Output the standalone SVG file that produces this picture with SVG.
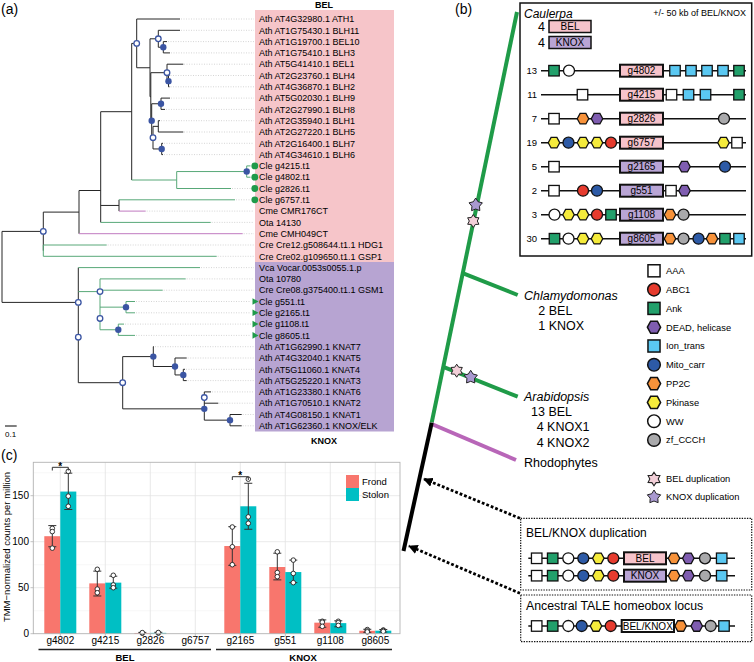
<svg xmlns="http://www.w3.org/2000/svg" width="754" height="662" viewBox="0 0 754 662">
<defs>
<style>
text{font-family:"Liberation Sans",Arial,Helvetica,sans-serif;fill:#000}
.lbl{font-size:9px}
.t{fill:none;stroke:#262626;stroke-width:1}
.tg{fill:none;stroke:#58a878;stroke-width:1}
.tp{fill:none;stroke:#c07ac0;stroke-width:1}
.ld{fill:none;stroke:#b8b8b8;stroke-width:0.6;stroke-dasharray:1 1.5}
.nf{fill:#3b55a3}
.no{fill:#fff;stroke:#3b55a3;stroke-width:1.3}
.d{stroke:#111;stroke-width:1.3}
.w{fill:#fff}.r{fill:#e63b2e}.g{fill:#22a06b}.p{fill:#7f5db0}.lb{fill:#5ac8f2}.b{fill:#2d5aa6}.o{fill:#f7923a}.y{fill:#f5eb3b}.gr{fill:#a9a9ab}
.ln{stroke:#111;stroke-width:1.5}
.gb{stroke:#111;stroke-width:2}
.bel{fill:#f6c3cb}.knox{fill:#b9a5d5}
.rn{font-size:9.5px;text-anchor:end}
.gl{font-size:10px;text-anchor:middle}
.lg{font-size:9.3px}
.big{font-size:12.5px}
.sk{fill:#a999d0;stroke:#222;stroke-width:1}
.sb{fill:#f2cfd8;stroke:#222;stroke-width:1}
.ax{font-size:10px;fill:#4d4d4d}
.eb{stroke:#333;stroke-width:1;fill:none}
.pt{fill:#fff;stroke:#222;stroke-width:0.9}
.fr{fill:#f8766d}.sto{fill:#00bfc4}
</style>
<rect id="sq" x="-5.25" y="-5.25" width="10.5" height="10.5"/>
<circle id="ci" r="5.5"/>
<polygon id="hx" points="-5.75,0 -2.9,-5.25 2.9,-5.25 5.75,0 2.9,5.25 -2.9,5.25"/>
<path id="st5" d="M0,-7 L2.35,-3.24 L6.66,-2.16 L3.8,1.24 L4.11,5.66 L0,4 L-4.11,5.66 L-3.8,1.24 L-6.66,-2.16 L-2.35,-3.24 Z"/>
<path id="st6" d="M0,-6.5 L2,-3.46 L5.63,-3.25 L4,0 L5.63,3.25 L2,3.46 L0,6.5 L-2,3.46 L-5.63,3.25 L-4,0 L-5.63,-3.25 L-2,-3.46 Z"/>
<marker id="ah" viewBox="0 0 10 10" refX="9" refY="5" markerWidth="3.4" markerHeight="3.4" orient="auto" markerUnits="strokeWidth"><path d="M0,0 L10,5 L0,10 Z" fill="#000"/></marker>
</defs>
<rect width="754" height="662" fill="#fff"/>

<!-- ================= Panel (a) ================= -->
<g id="panel-a">
<text x="1" y="13.5" font-size="14">(a)</text>
<rect x="255" y="10" width="139" height="252" fill="#f6c5c9"/>
<rect x="255" y="262" width="139" height="169.5" fill="#b7a4d2"/>
<text x="324" y="8" font-size="9" font-weight="bold" text-anchor="middle">BEL</text>
<text x="324" y="443.5" font-size="9" font-weight="bold" text-anchor="middle">KNOX</text>

<g id="connectors-a">
<path class="ld" d="M181,19H254 M181,30.3H254 M168,41.6H254 M171,52.9H254 M184,64.2H254 M170.5,75.5H254 M170.5,86.8H254 M171,98.1H254 M166,109.4H254 M161,120.7H254 M184,132H254 M164,143.3H254 M164,154.6H254 M232,188.5H251 M236,199.8H251 M146.7,211.1H254 M211.7,222.4H254 M243.7,233.7H254 M107.7,245H254 M217.7,256.3H254 M201,267.6H254 M186.7,278.9H254 M163.7,290.2H254 M136,301.5H251 M136,312.8H251 M125,324.1H251 M136,335.4H251 M155,346.7H254 M187.7,358H254 M186,369.3H254 M187.7,380.6H254 M212,391.9H254 M219.3,403.2H254 M242.7,414.5H254 M242.7,425.8H254"/>
<path class="t" d="M2,231.4V302.4 M2,231.4H43.3 M2,302.4H78.3
M43.3,212.1V250.65 M43.3,212.1H79
M79,190.5V233.7 M79,190.5H100.7
M100.7,111.7V222.4 M100.7,111.7H131.7 M100.7,205.45H119
M119,199.8V211.1
M131.7,43.4V180 M131.7,43.4H136.7
M136.7,19V67.75 M136.7,19H180 M136.7,67.75H150
M150,38.8V96.7 M150,38.8H158.3 M150,96.7H150.8
M158.3,30.3V47.25 M158.3,30.3H180 M158.3,47.25H163.3
M163.3,41.6V52.9 M163.3,41.6H167 M163.3,52.9H170
M150.8,72.7V120.7 M150.8,72.7H167 M150.8,120.7H151.7
M167,64.2V81.15 M167,64.2H183.3 M167,81.15H168.5
M168.5,75.5V86.8 M168.5,75.5H169.5 M168.5,86.8H169.5
M151.7,103.75V137.65 M151.7,103.75H161 M151.7,137.65H153
M161,98.1V109.4 M161,98.1H170 M161,109.4H165
M153,126.35V148.95 M153,126.35H158.3 M153,148.95H161.7
M158.3,120.7V132 M158.3,120.7H160 M158.3,132H183.3
M161.7,143.3V154.6 M161.7,143.3H163 M161.7,154.6H163
M78.3,267.6V382.7 M78.3,382.7H122.7
M122.7,356.6V408.85 M122.7,356.6H153.3 M122.7,408.85H204.3
M153.3,346.7V366.5 M153.3,346.7H154 M153.3,366.5H175
M175,358V374.95 M175,358H186.7 M175,374.95H183.3
M183.3,369.3V380.6 M183.3,369.3H185 M183.3,380.6H186.7
M204.3,391.9V420.15 M204.3,420.15H230 M204.3,391.9H211 M204.3,403.2H218.3
M230,414.5V425.8 M230,414.5H241.7 M230,425.8H241.7"/>
<path class="tg" d="M43.3,245V256.3 M43.3,245H106.7 M43.3,256.3H216.7
M100.7,222.4H210.7 M119,199.8H235
M131.7,180H176.7 M176.7,171.55V188.5 M176.7,171.55H246.7 M176.7,188.5H231
M246.7,165.9V177.2 M246.7,165.9H250.5 M246.7,177.2H250.5
M78.3,267.6H200 M78.3,291.6H100
M100,278.9V329.75 M100,278.9H185.7 M100,290.2H162.7 M100,307.15H126 M100,329.75H118.3
M126,301.5V312.8 M126,301.5H135 M126,312.8H135
M118.3,324.1V335.4 M118.3,324.1H124 M118.3,335.4H135"/>
<path class="tp" d="M79,233.7H242.7 M119,211.1H145.7"/>
</g>

<g id="nodes-a">
<circle class="no" cx="136.7" cy="43.4" r="2.8"/>
<circle class="no" cx="158.3" cy="38.8" r="2.8"/>
<circle class="nf" cx="163.3" cy="47.25" r="3.2"/>
<circle class="no" cx="167" cy="72.7" r="2.8"/>
<circle class="nf" cx="168.5" cy="81.15" r="3.2"/>
<circle class="nf" cx="161" cy="103.75" r="3.2"/>
<circle class="nf" cx="151.7" cy="120.7" r="3.2"/>
<circle class="no" cx="153" cy="137.65" r="2.8"/>
<circle class="nf" cx="161.7" cy="148.95" r="3.2"/>
<circle class="nf" cx="246.7" cy="171.55" r="3.2"/>
<circle class="no" cx="43.3" cy="231.4" r="2.8"/>
<circle class="no" cx="78.3" cy="302.4" r="2.8"/>
<circle class="no" cx="78.3" cy="337.2" r="2.8"/>
<circle class="no" cx="100" cy="291.6" r="2.8"/>
<circle class="no" cx="100" cy="318.45" r="2.8"/>
<circle class="nf" cx="126" cy="307.15" r="3.2"/>
<circle class="nf" cx="118.3" cy="329.75" r="3.2"/>
<circle class="no" cx="122.7" cy="382.7" r="2.8"/>
<circle class="nf" cx="153.3" cy="356.6" r="3.2"/>
<circle class="nf" cx="175" cy="366.5" r="3.2"/>
<circle class="nf" cx="183.3" cy="374.95" r="3.2"/>
<circle class="no" cx="204.3" cy="397.55" r="2.8"/>
<circle class="nf" cx="204.3" cy="408.85" r="3.2"/>
<circle class="nf" cx="230" cy="420.15" r="3.2"/>
</g>

<g id="tips-a" fill="#1f9a4a">
<circle cx="254.8" cy="165.9" r="3.4"/>
<circle cx="254.8" cy="177.2" r="3.4"/>
<circle cx="254.8" cy="188.5" r="3.4"/>
<circle cx="254.8" cy="199.8" r="3.4"/>
<polygon points="252.5,298.2 258.5,301.5 252.5,304.8"/>
<polygon points="252.5,309.5 258.5,312.8 252.5,316.1"/>
<polygon points="252.5,320.8 258.5,324.1 252.5,327.4"/>
<polygon points="252.5,332.1 258.5,335.4 252.5,338.7"/>
</g>

<g id="labels-a" class="lbl">
<text x="259" y="22.2">Ath AT4G32980.1 ATH1</text>
<text x="259" y="33.5">Ath AT1G75430.1 BLH11</text>
<text x="259" y="44.8">Ath AT1G19700.1 BEL10</text>
<text x="259" y="56.1">Ath AT1G75410.1 BLH3</text>
<text x="259" y="67.4">Ath AT5G41410.1 BEL1</text>
<text x="259" y="78.7">Ath AT2G23760.1 BLH4</text>
<text x="259" y="90">Ath AT4G36870.1 BLH2</text>
<text x="259" y="101.3">Ath AT5G02030.1 BLH9</text>
<text x="259" y="112.6">Ath AT2G27990.1 BLH8</text>
<text x="259" y="123.9">Ath AT2G35940.1 BLH1</text>
<text x="259" y="135.2">Ath AT2G27220.1 BLH5</text>
<text x="259" y="146.5">Ath AT2G16400.1 BLH7</text>
<text x="259" y="157.8">Ath AT4G34610.1 BLH6</text>
<text x="259" y="169.1">Cle g4215.t1</text>
<text x="259" y="180.4">Cle g4802.t1</text>
<text x="259" y="191.7">Cle g2826.t1</text>
<text x="259" y="203">Cle g6757.t1</text>
<text x="259" y="214.3">Cme CMR176CT</text>
<text x="259" y="225.6">Ota 14130</text>
<text x="259" y="236.9">Cme CMH049CT</text>
<text x="259" y="248.2">Cre Cre12.g508644.t1.1 HDG1</text>
<text x="259" y="259.5">Cre Cre02.g109650.t1.1 GSP1</text>
<text x="259" y="270.8">Vca Vocar.0053s0055.1.p</text>
<text x="259" y="282.1">Ota 10780</text>
<text x="259" y="293.4">Cre Cre08.g375400.t1.1 GSM1</text>
<text x="259" y="304.7">Cle g551.t1</text>
<text x="259" y="316">Cle g2165.t1</text>
<text x="259" y="327.3">Cle g1108.t1</text>
<text x="259" y="338.6">Cle g8605.t1</text>
<text x="259" y="349.9">Ath AT1G62990.1 KNAT7</text>
<text x="259" y="361.2">Ath AT4G32040.1 KNAT5</text>
<text x="259" y="372.5">Ath AT5G11060.1 KNAT4</text>
<text x="259" y="383.8">Ath AT5G25220.1 KNAT3</text>
<text x="259" y="395.1">Ath AT1G23380.1 KNAT6</text>
<text x="259" y="406.4">Ath AT1G70510.1 KNAT2</text>
<text x="259" y="417.7">Ath AT4G08150.1 KNAT1</text>
<text x="259" y="429">Ath AT1G62360.1 KNOX/ELK</text>
</g>

<g id="scalebar">
<line x1="5" y1="426" x2="16.7" y2="426" stroke="#000" stroke-width="1"/>
<text x="5" y="436.5" font-size="8">0.1</text>
</g>
</g>

<!-- ================= Panel (c) ================= -->
<g id="panel-c">
<text x="1" y="460" font-size="14">(c)</text>
<g id="grid-c" fill="none">
<path stroke="#f2f2f2" stroke-width="0.6" d="M33.3,610.7H400 M33.3,564.7H400 M33.3,518.7H400 M33.3,472.7H400"/>
<path stroke="#e3e3e3" stroke-width="0.8" d="M33.3,587.7H400 M33.3,541.7H400 M33.3,495.7H400 M60.3,462.3V633.7 M105.3,462.3V633.7 M150.3,462.3V633.7 M195.3,462.3V633.7 M240.3,462.3V633.7 M285.3,462.3V633.7 M330.3,462.3V633.7 M375.3,462.3V633.7"/>
</g>
<g id="bars-c">
<rect class="fr" x="44.3" y="536.2" width="16" height="97.5"/>
<rect class="sto" x="60.3" y="491.56" width="16" height="142.14"/>
<rect class="fr" x="89.3" y="583.38" width="16" height="50.32"/>
<rect class="sto" x="105.3" y="582.64" width="16" height="51.06"/>
<rect class="fr" x="134.3" y="632.96" width="16" height="0.74"/>
<rect class="sto" x="150.3" y="632.87" width="16" height="0.83"/>
<rect class="fr" x="224.3" y="546.02" width="16" height="87.68"/>
<rect class="sto" x="240.3" y="506.28" width="16" height="127.42"/>
<rect class="fr" x="269.3" y="567" width="16" height="66.7"/>
<rect class="sto" x="285.3" y="572.06" width="16" height="61.64"/>
<rect class="fr" x="314.3" y="622.66" width="16" height="11.04"/>
<rect class="sto" x="330.3" y="623.12" width="16" height="10.58"/>
<rect class="fr" x="359.3" y="630.76" width="16" height="2.94"/>
<rect class="sto" x="375.3" y="630.66" width="16" height="3.04"/>
</g>
<path id="errorbars-c" class="eb" d="M52.3,546.76V525.6 M48.3,546.76H56.3 M48.3,525.6H56.3
M68.3,509.5V473.16 M64.3,509.5H72.3 M64.3,473.16H72.3
M97.3,595.98V571.14 M93.3,595.98H101.3 M93.3,571.14H101.3
M113.3,588.16V576.2 M109.3,588.16H117.3 M109.3,576.2H117.3
M142.3,633.5V632.4 M138.3,632.4H146.3
M158.3,633.4V632.3 M154.3,632.3H162.3
M232.3,565.34V526.7 M228.3,565.34H236.3 M228.3,526.7H236.3
M248.3,529.28V483.28 M244.3,529.28H252.3 M244.3,483.28H252.3
M277.3,579.88V553.2 M273.3,579.88H281.3 M273.3,553.2H281.3
M293.3,582.64V560.1 M289.3,582.64H297.3 M289.3,560.1H297.3
M322.3,627.26V619.9 M318.3,627.26H326.3 M318.3,619.9H326.3
M338.3,626.8V620.82 M334.3,626.8H342.3 M334.3,620.82H342.3
M367.3,632.32V629.28 M363.3,632.32H371.3 M363.3,629.28H371.3
M383.3,632.04V629.47 M379.3,632.04H387.3 M379.3,629.47H387.3"/>
<g id="points-c">
<circle class="pt" cx="52.3" cy="528.36" r="2.3"/><circle class="pt" cx="52.3" cy="531.58" r="2.3"/><circle class="pt" cx="52.3" cy="548.14" r="2.3"/>
<circle class="pt" cx="68.3" cy="471.32" r="2.3"/><circle class="pt" cx="68.3" cy="496.16" r="2.3"/><circle class="pt" cx="68.3" cy="506.28" r="2.3"/>
<circle class="pt" cx="97.3" cy="569.3" r="2.3"/><circle class="pt" cx="97.3" cy="589.08" r="2.3"/><circle class="pt" cx="97.3" cy="592.76" r="2.3"/>
<circle class="pt" cx="113.3" cy="575.28" r="2.3"/><circle class="pt" cx="113.3" cy="584.94" r="2.3"/><circle class="pt" cx="113.3" cy="587.7" r="2.3"/>
<circle class="pt" cx="142.3" cy="633.24" r="2.3"/><circle class="pt" cx="142.3" cy="632.6" r="2.3"/>
<circle class="pt" cx="158.3" cy="633.15" r="2.3"/><circle class="pt" cx="158.3" cy="632.5" r="2.3"/>
<circle class="pt" cx="232.3" cy="527" r="2.3"/><circle class="pt" cx="232.3" cy="546.76" r="2.3"/><circle class="pt" cx="232.3" cy="564.7" r="2.3"/>
<circle class="pt" cx="248.3" cy="479.14" r="2.3"/><circle class="pt" cx="248.3" cy="516.86" r="2.3"/><circle class="pt" cx="248.3" cy="523.3" r="2.3"/>
<circle class="pt" cx="277.3" cy="551.82" r="2.3"/><circle class="pt" cx="277.3" cy="572.52" r="2.3"/><circle class="pt" cx="277.3" cy="576.66" r="2.3"/>
<circle class="pt" cx="293.3" cy="560.1" r="2.3"/><circle class="pt" cx="293.3" cy="573.44" r="2.3"/><circle class="pt" cx="293.3" cy="582.64" r="2.3"/>
<circle class="pt" cx="322.3" cy="621.28" r="2.3"/><circle class="pt" cx="322.3" cy="622.2" r="2.3"/><circle class="pt" cx="322.3" cy="626.34" r="2.3"/>
<circle class="pt" cx="338.3" cy="621.28" r="2.3"/><circle class="pt" cx="338.3" cy="622.66" r="2.3"/><circle class="pt" cx="338.3" cy="625.42" r="2.3"/>
<circle class="pt" cx="367.3" cy="629.56" r="2.3"/><circle class="pt" cx="367.3" cy="630.94" r="2.3"/><circle class="pt" cx="367.3" cy="631.86" r="2.3"/>
<circle class="pt" cx="383.3" cy="630.02" r="2.3"/><circle class="pt" cx="383.3" cy="630.48" r="2.3"/><circle class="pt" cx="383.3" cy="631.4" r="2.3"/>
</g>
<rect x="33.3" y="462.3" width="366.7" height="171.4" fill="none" stroke="#b3b3b3" stroke-width="0.9"/>
<path stroke="#b3b3b3" stroke-width="0.8" fill="none" d="M30.5,633.7H33.3 M30.5,587.7H33.3 M30.5,541.7H33.3 M30.5,495.7H33.3 M60.3,633.7V636.5 M105.3,633.7V636.5 M150.3,633.7V636.5 M195.3,633.7V636.5 M240.3,633.7V636.5 M285.3,633.7V636.5 M330.3,633.7V636.5 M375.3,633.7V636.5"/>
<g id="sig-c">
<path class="eb" d="M52.3,470.5V467.3H68.3V470.5 M232.3,480V476.7H248.3V480"/>
<text x="60.3" y="469.5" font-size="10" font-weight="bold" text-anchor="middle">*</text>
<text x="240.3" y="479" font-size="10" font-weight="bold" text-anchor="middle">*</text>
</g>
<g id="yaxis-c" class="ax" text-anchor="end">
<text x="29" y="637.2">0</text>
<text x="29" y="591.2">50</text>
<text x="29" y="545.2">100</text>
<text x="29" y="499.2">150</text>
</g>
<text transform="translate(10,547) rotate(-90)" font-size="9.5" text-anchor="middle">TMM−normalized counts per million</text>
<g id="xaxis-c" class="ax" text-anchor="middle">
<text x="60.3" y="643.8">g4802</text>
<text x="105.3" y="643.8">g4215</text>
<text x="150.3" y="643.8">g2826</text>
<text x="195.3" y="643.8">g6757</text>
<text x="240.3" y="643.8">g2165</text>
<text x="285.3" y="643.8">g551</text>
<text x="330.3" y="643.8">g1108</text>
<text x="375.3" y="643.8">g8605</text>
</g>
<g id="groups-c">
<line x1="38.5" y1="649.5" x2="211" y2="649.5" stroke="#222" stroke-width="1.6"/>
<line x1="216" y1="649.5" x2="392" y2="649.5" stroke="#222" stroke-width="1.6"/>
<text x="125" y="660.5" font-size="9.5" font-weight="bold" text-anchor="middle">BEL</text>
<text x="303" y="660.5" font-size="9.5" font-weight="bold" text-anchor="middle">KNOX</text>
</g>
<g id="legend-c">
<rect class="fr" x="346" y="475" width="13" height="13"/>
<rect class="sto" x="346" y="488" width="13" height="13"/>
<text x="362" y="485" font-size="9.5">Frond</text>
<text x="362" y="498" font-size="9.5">Stolon</text>
</g>
</g>

<!-- ================= Panel (b) ================= -->
<g id="panel-b">
<text x="455" y="13.5" font-size="14">(b)</text>

<g id="connectors-b" fill="none" stroke-linecap="butt">
<line x1="517" y1="12" x2="431.7" y2="422.7" stroke="#1f9b48" stroke-width="4"/>
<line x1="463.3" y1="273.3" x2="517.7" y2="295" stroke="#1f9b48" stroke-width="4"/>
<line x1="442.7" y1="366.7" x2="517.7" y2="396.7" stroke="#1f9b48" stroke-width="4"/>
<line x1="431.7" y1="424" x2="516" y2="460" stroke="#b866b8" stroke-width="4"/>
<line x1="431.7" y1="422.7" x2="403.5" y2="551" stroke="#000" stroke-width="4"/>
<path d="M520,518.3 L424,479" stroke="#000" stroke-width="2.8" stroke-dasharray="2.8 2" marker-end="url(#ah)"/>
<path d="M520,593.3 L409,546" stroke="#000" stroke-width="2.8" stroke-dasharray="2.8 2" marker-end="url(#ah)"/>
</g>
<g id="stars-b">
<use href="#st5" x="475.7" y="205" class="sk"/>
<use href="#st6" x="473.3" y="221" class="sb"/>
<use href="#st6" x="456.7" y="370.7" class="sb"/>
<use href="#st5" x="470.7" y="377.3" class="sk"/>
</g>

<g id="caulerpa-box">
<rect x="520" y="3" width="231.7" height="253" fill="#fff" stroke="#111" stroke-width="1.5"/>
<text x="524" y="17.5" font-size="12" font-style="italic">Caulerpa</text>
<text x="746" y="16.2" font-size="9" text-anchor="end">+/- 50 kb of BEL/KNOX</text>
<text x="538" y="31" font-size="12.5">4</text>
<rect x="549" y="20.5" width="42" height="12" class="bel" stroke="#111" stroke-width="1.5"/>
<text x="570" y="30" font-size="10" text-anchor="middle">BEL</text>
<text x="538" y="47" font-size="12.5">4</text>
<rect x="549" y="36.5" width="42" height="12" class="knox" stroke="#111" stroke-width="1.5"/>
<text x="570" y="46" font-size="10" text-anchor="middle">KNOX</text>
</g>

<g id="row-g4802">
<line class="ln" x1="541" y1="70.7" x2="746" y2="70.7"/>
<text class="rn" x="537" y="74.1">13</text>
<use href="#sq" x="554" y="70.7" class="d g"/>
<use href="#ci" x="569" y="70.7" class="d w"/>
<rect class="gb bel" x="620" y="64.7" width="43" height="12"/>
<text class="gl" x="641.5" y="74.3">g4802</text>
<use href="#sq" x="675" y="70.7" class="d lb"/>
<use href="#sq" x="691" y="70.7" class="d lb"/>
<use href="#sq" x="707" y="70.7" class="d lb"/>
<use href="#sq" x="723" y="70.7" class="d lb"/>
<use href="#sq" x="739" y="70.7" class="d g"/>
</g>
<g id="row-g4215">
<line class="ln" x1="541" y1="94.7" x2="746" y2="94.7"/>
<text class="rn" x="537" y="98.1">11</text>
<use href="#sq" x="582.5" y="94.7" class="d w"/>
<rect class="gb bel" x="620" y="88.7" width="43" height="12"/>
<text class="gl" x="641.5" y="98.3">g4215</text>
<use href="#sq" x="671.5" y="94.7" class="d w"/>
<use href="#sq" x="688.5" y="94.7" class="d lb"/>
<use href="#sq" x="705.5" y="94.7" class="d lb"/>
<use href="#sq" x="739" y="94.7" class="d g"/>
</g>
<g id="row-g2826">
<line class="ln" x1="541" y1="118.7" x2="746" y2="118.7"/>
<text class="rn" x="537" y="122.1">7</text>
<use href="#sq" x="554" y="118.7" class="d w"/>
<use href="#hx" x="583" y="118.7" class="d o"/>
<use href="#hx" x="597" y="118.7" class="d p"/>
<rect class="gb bel" x="620" y="112.7" width="43" height="12"/>
<text class="gl" x="641.5" y="122.3">g2826</text>
<use href="#ci" x="724" y="118.7" class="d gr"/>
</g>
<g id="row-g6757">
<line class="ln" x1="541" y1="142.7" x2="746" y2="142.7"/>
<text class="rn" x="537" y="146.1">19</text>
<use href="#hx" x="554" y="142.7" class="d y"/>
<use href="#ci" x="568.5" y="142.7" class="d b"/>
<use href="#hx" x="583" y="142.7" class="d y"/>
<use href="#hx" x="597" y="142.7" class="d y"/>
<use href="#ci" x="611" y="142.7" class="d r"/>
<rect class="gb bel" x="620" y="136.7" width="43" height="12"/>
<text class="gl" x="641.5" y="146.3">g6757</text>
<use href="#hx" x="723.5" y="142.7" class="d y"/>
<use href="#sq" x="737" y="142.7" class="d w"/>
</g>
<g id="row-g2165">
<line class="ln" x1="541" y1="166.7" x2="746" y2="166.7"/>
<text class="rn" x="537" y="170.1">5</text>
<use href="#sq" x="554" y="166.7" class="d w"/>
<rect class="gb knox" x="620" y="160.7" width="43" height="12"/>
<text class="gl" x="641.5" y="170.3">g2165</text>
<use href="#hx" x="684.5" y="166.7" class="d p"/>
<use href="#ci" x="725" y="166.7" class="d b"/>
</g>
<g id="row-g551">
<line class="ln" x1="541" y1="190.7" x2="746" y2="190.7"/>
<text class="rn" x="537" y="194.1">2</text>
<use href="#sq" x="554" y="190.7" class="d w"/>
<use href="#ci" x="583" y="190.7" class="d r"/>
<use href="#ci" x="597" y="190.7" class="d b"/>
<rect class="gb knox" x="620" y="184.7" width="43" height="12"/>
<text class="gl" x="641.5" y="194.3">g551</text>
<use href="#sq" x="671" y="190.7" class="d w"/>
<use href="#hx" x="684.5" y="190.7" class="d p"/>
</g>
<g id="row-g1108">
<line class="ln" x1="541" y1="214.7" x2="746" y2="214.7"/>
<text class="rn" x="537" y="218.1">3</text>
<use href="#ci" x="554.5" y="214.7" class="d w"/>
<use href="#hx" x="568.5" y="214.7" class="d y"/>
<use href="#hx" x="583" y="214.7" class="d y"/>
<use href="#ci" x="597" y="214.7" class="d r"/>
<use href="#sq" x="611" y="214.7" class="d g"/>
<rect class="gb knox" x="620" y="208.7" width="43" height="12"/>
<text class="gl" x="641.5" y="218.3">g1108</text>
<use href="#hx" x="670" y="214.7" class="d o"/>
<use href="#ci" x="683.5" y="214.7" class="d gr"/>
</g>
<g id="row-g8605">
<line class="ln" x1="541" y1="238.7" x2="746" y2="238.7"/>
<text class="rn" x="537" y="242.1">30</text>
<use href="#sq" x="554.5" y="238.7" class="d g"/>
<use href="#ci" x="568.5" y="238.7" class="d w"/>
<use href="#hx" x="583" y="238.7" class="d y"/>
<use href="#hx" x="597" y="238.7" class="d y"/>
<rect class="gb knox" x="620" y="232.7" width="43" height="12"/>
<text class="gl" x="641.5" y="242.3">g8605</text>
<use href="#hx" x="670" y="238.7" class="d o"/>
<use href="#ci" x="683.5" y="238.7" class="d gr"/>
<use href="#ci" x="698.5" y="238.7" class="d b"/>
<use href="#hx" x="712" y="238.7" class="d o"/>
<use href="#sq" x="725" y="238.7" class="d g"/>
<use href="#sq" x="739" y="238.7" class="d lb"/>
</g>

<g id="taxa-b" class="big">
<text x="524" y="300.3" font-style="italic">Chlamydomonas</text>
<text x="538.3" y="315.2">2 BEL</text>
<text x="538.3" y="330.2">1 KNOX</text>
<text x="524" y="401.2" font-style="italic">Arabidopsis</text>
<text x="531" y="415.5">13 BEL</text>
<text x="536.7" y="431.2">4 KNOX1</text>
<text x="536.7" y="446.8">4 KNOX2</text>
<text x="524" y="467.2">Rhodophytes</text>
</g>

<g id="legend-b" class="lg">
<use href="#sq" transform="translate(654,270.8) scale(1.15)" class="d w"/><text x="666" y="274.1">AAA</text>
<use href="#ci" transform="translate(654,289.6) scale(1.15)" class="d r"/><text x="666" y="292.9">ABC1</text>
<use href="#sq" transform="translate(654,308.4) scale(1.15)" class="d g"/><text x="666" y="311.7">Ank</text>
<use href="#hx" transform="translate(654,327.2) scale(1.15)" class="d p"/><text x="666" y="330.5">DEAD, helicase</text>
<use href="#sq" transform="translate(654,346) scale(1.15)" class="d lb"/><text x="666" y="349.3">Ion_trans</text>
<use href="#ci" transform="translate(654,364.8) scale(1.15)" class="d b"/><text x="666" y="368.1">Mito_carr</text>
<use href="#hx" transform="translate(654,383.6) scale(1.15)" class="d o"/><text x="666" y="386.9">PP2C</text>
<use href="#hx" transform="translate(654,402.4) scale(1.15)" class="d y"/><text x="666" y="405.7">Pkinase</text>
<use href="#ci" transform="translate(654,421.2) scale(1.15)" class="d w"/><text x="666" y="424.5">WW</text>
<use href="#ci" transform="translate(654,440) scale(1.15)" class="d gr"/><text x="666" y="443.3">zf_CCCH</text>
<use href="#st6" transform="translate(654,479) scale(1.05)" class="sb"/><text x="666" y="482.3">BEL duplication</text>
<use href="#st5" transform="translate(654,497) scale(1.0)" class="sk"/><text x="666" y="500">KNOX duplication</text>
</g>

<g id="dup-box">
<rect x="520.7" y="518.3" width="231" height="71.7" fill="none" stroke="#111" stroke-width="1.2" stroke-dasharray="1.4 1.2"/>
<text x="526" y="537" font-size="12">BEL/KNOX duplication</text>
<g id="dup-bel">
<line class="ln" x1="528.3" y1="558.3" x2="735" y2="558.3"/>
<use href="#sq" x="536.7" y="558.3" class="d w"/>
<use href="#sq" x="552.7" y="558.3" class="d g"/>
<use href="#ci" x="568.3" y="558.3" class="d w"/>
<use href="#ci" x="583.3" y="558.3" class="d b"/>
<use href="#hx" x="598.3" y="558.3" class="d y"/>
<use href="#ci" x="613.3" y="558.3" class="d r"/>
<rect class="gb bel" x="624" y="552.3" width="42" height="12"/>
<text class="gl" x="645" y="561.9">BEL</text>
<use href="#hx" x="674" y="558.3" class="d o"/>
<use href="#hx" x="688.3" y="558.3" class="d p"/>
<use href="#ci" x="705" y="558.3" class="d gr"/>
<use href="#sq" x="721.7" y="558.3" class="d lb"/>
</g>
<g id="dup-knox">
<line class="ln" x1="528.3" y1="575.7" x2="735" y2="575.7"/>
<use href="#sq" x="536.7" y="575.7" class="d w"/>
<use href="#sq" x="552.7" y="575.7" class="d g"/>
<use href="#ci" x="568.3" y="575.7" class="d w"/>
<use href="#ci" x="583.3" y="575.7" class="d b"/>
<use href="#hx" x="598.3" y="575.7" class="d y"/>
<use href="#ci" x="613.3" y="575.7" class="d r"/>
<rect class="gb knox" x="624" y="569.7" width="42" height="12"/>
<text class="gl" x="645" y="579.3">KNOX</text>
<use href="#hx" x="674" y="575.7" class="d o"/>
<use href="#hx" x="688.3" y="575.7" class="d p"/>
<use href="#ci" x="705" y="575.7" class="d gr"/>
<use href="#sq" x="721.7" y="575.7" class="d lb"/>
</g>
</g>

<g id="ancestral-box">
<rect x="520.7" y="595" width="231" height="46.7" fill="none" stroke="#111" stroke-width="1.2" stroke-dasharray="1.4 1.2"/>
<text x="526" y="610.3" font-size="12.3">Ancestral TALE homeobox locus</text>
<line class="ln" x1="528.3" y1="626" x2="735" y2="626"/>
<use href="#sq" x="536.7" y="626" class="d w"/>
<use href="#sq" x="552.7" y="626" class="d g"/>
<use href="#ci" x="568.3" y="626" class="d w"/>
<use href="#ci" x="581.7" y="626" class="d b"/>
<use href="#hx" x="596" y="626" class="d y"/>
<use href="#ci" x="610.7" y="626" class="d r"/>
<rect class="gb" fill="#fff" x="621.7" y="620" width="52.3" height="12"/>
<text class="gl" x="647.8" y="629.6">BEL/KNOX</text>
<use href="#hx" x="680.7" y="626" class="d o"/>
<use href="#hx" x="696.7" y="626" class="d p"/>
<use href="#ci" x="710.7" y="626" class="d gr"/>
<use href="#sq" x="724" y="626" class="d lb"/>
</g>
</g>
</svg>
